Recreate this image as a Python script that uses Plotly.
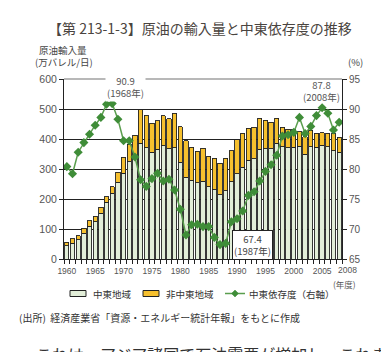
import plotly.graph_objects as go

years = list(range(1960, 2009))
total = [56, 67, 77, 102, 127, 142, 172, 208, 241, 289,
         339, 382, 413, 497, 480, 452, 461, 478, 467, 486,
         441, 394, 372, 360, 369, 342, 336, 319, 336, 361,
         397, 419, 436, 439, 469, 462, 456, 469, 439, 433,
         432, 424, 408, 430, 419, 421, 419, 417, 406]
mideast = [45, 53, 64, 86, 109, 124, 152, 189, 219, 256,
           286, 324, 340, 386, 371, 356, 366, 377, 367, 371,
           322, 272, 263, 255, 260, 241, 231, 215, 227, 257,
           285, 306, 330, 335, 366, 368, 368, 386, 375, 371,
           372, 376, 350, 374, 372, 380, 374, 361, 356]
dependence = [80.4, 79.2, 82.8, 84.4, 85.8, 87.3, 88.6, 90.8, 90.9, 88.3,
              84.7, 84.7, 82.0, 78.2, 77.1, 78.4, 79.3, 78.0, 78.3, 76.5,
              73.3, 69.0, 70.7, 70.8, 70.4, 70.4, 68.6, 67.4, 67.6, 71.2,
              71.7, 73.0, 75.6, 76.2, 78.0, 79.6, 80.7, 82.3, 85.5, 85.7,
              86.1, 88.6, 85.9, 87.1, 88.9, 90.2, 89.3, 86.5, 87.8]
non_mideast = [t - m for t, m in zip(total, mideast)]
label_years = [1960, 1965, 1970, 1975, 1980, 1985, 1990, 1995, 2000, 2005]
series_names = ["中東地域", "非中東地域", "中東依存度（右軸）"]

JP = "Noto Sans CJK JP"
W, H = 381, 352
ML, MR, MT, MB = 64, 39, 79, 93
PW, PH = W - ML - MR, H - MT - MB
GREEN_BAR, YELLOW_BAR = "#e2eed8", "#f6c02e"
LINE_C, MARK_C, EDGE = "#5a9e4e", "#3f8d38", "#222"


def px(x):
    return (x - ML) / PW


def py(y):
    return (H - MB - y) / PH


fig = go.Figure()
fig.add_trace(go.Bar(x=years, y=mideast, name=series_names[0],
                     marker=dict(color=GREEN_BAR, line=dict(color=EDGE, width=0.9))))
fig.add_trace(go.Bar(x=years, y=non_mideast, name=series_names[1],
                     marker=dict(color=YELLOW_BAR, line=dict(color=EDGE, width=0.9))))
fig.add_trace(go.Scatter(x=years, y=dependence, name=series_names[2], yaxis="y2",
                         mode="lines+markers",
                         line=dict(color=LINE_C, width=1.5),
                         marker=dict(symbol="diamond", size=7, color=MARK_C)))

# manual legend swatches (paper coordinates derived from pixel layout)
LY = 293.5
shapes = [
    dict(type="line", xref="paper", yref="paper", x0=0, x1=1, y0=1, y1=1,
         line=dict(color="#a0a0a0", width=1.6), layer="above"),
    dict(type="rect", xref="paper", yref="paper", x0=px(70), x1=px(86), y0=py(LY - 3),
         y1=py(LY + 3), fillcolor=GREEN_BAR, line=dict(color=EDGE, width=1)),
    dict(type="rect", xref="paper", yref="paper", x0=px(143), x1=px(159), y0=py(LY - 3),
         y1=py(LY + 3), fillcolor=YELLOW_BAR, line=dict(color=EDGE, width=1)),
    dict(type="line", xref="paper", yref="paper", x0=px(225), x1=px(245), y0=py(LY),
         y1=py(LY), line=dict(color=LINE_C, width=1.5)),
    dict(type="path", xref="paper", yref="paper",
         path=f"M {px(235)} {py(LY - 3.5)} L {px(238.5)} {py(LY)} L {px(235)} {py(LY + 3.5)} "
              f"L {px(231.5)} {py(LY)} Z",
         fillcolor=MARK_C, line=dict(color=MARK_C, width=0.5)),
]

fig.update_layout(
    width=W, height=H, margin=dict(l=ML, r=MR, t=MT, b=MB, autoexpand=False),
    paper_bgcolor="white", plot_bgcolor="white",
    barmode="stack", bargap=0.24,
    font=dict(family=JP, size=10, color="#444"),
    showlegend=False,
    xaxis=dict(range=[1959.5, 2008.5], tickvals=label_years,
               ticktext=[str(y) for y in label_years], ticks="", ticklabelstandoff=4,
               tickfont=dict(family="Liberation Sans", size=8.5, color="#555"),
               showline=True, linecolor=EDGE, linewidth=1, showgrid=False, zeroline=False,
               minor=dict(tick0=1959.5, dtick=1, ticks="outside", ticklen=4,
                          tickcolor=EDGE, showgrid=False)),
    yaxis=dict(range=[0, 600], tickvals=[0, 100, 200, 300, 400, 500, 600],
               ticks="outside", ticklen=4, tickcolor=EDGE,
               tickfont=dict(family="Liberation Sans", size=10.5, color="#555"),
               showline=True, linecolor=EDGE, linewidth=1,
               showgrid=True, gridcolor=EDGE, gridwidth=1, zeroline=False),
    yaxis2=dict(range=[65, 95], tickvals=[65, 70, 75, 80, 85, 90, 95], overlaying="y",
                side="right", ticks="outside", ticklen=4, tickcolor=EDGE,
                tickfont=dict(family="Liberation Sans", size=10, color="#555"),
                showline=True, linecolor=EDGE, linewidth=1, showgrid=False, zeroline=False),
    shapes=shapes,
)


def note(text, x, y, size, color="#444", xanchor="center", yanchor="middle", **kw):
    return dict(text=text, xref="paper", yref="paper", x=px(x), y=py(y),
                xanchor=xanchor, yanchor=yanchor, showarrow=False,
                font=dict(size=size, color=color, family=kw.pop("family", JP)), **kw)


ann = [
    note("【第 213-1-3】原油の輸入量と中東依存度の推移", 200, 28, 14, "#4a4440"),
    note("原油輸入量", 37, 50, 9.5, xanchor="left"),
    note("(万バレル/日)", 33, 62, 9.5, xanchor="left"),
    note("(%)", 355, 62, 9.5),
    note("(年度)", 344, 284, 8.5, "#555"),
    note("90.9<br>(1968年)", 125, 87, 9.5, "#555", bgcolor="white", borderpad=1),
    note("87.8<br>(2008年)", 321, 91, 9.5, "#555"),
    note("67.4<br>(1987年)", 252.5, 245, 9.5, bgcolor="white", bordercolor=EDGE,
         borderwidth=1, borderpad=1),
    note(series_names[0], 91, LY, 9.5, "#333", xanchor="left"),
    note(series_names[1], 164, LY, 9.5, "#333", xanchor="left"),
    note(series_names[2], 247, LY, 9.5, "#333", xanchor="left"),
    note("(出所)  経済産業省「資源・エネルギー統計年報」をもとに作成", 17, 317, 10, "#333",
         xanchor="left"),
    note("これは、アジア諸国で石油需要が増加し、これま", 34, 340, 16, "#333",
         xanchor="left", yanchor="top"),
]
ann.append(dict(text="2008", xref="x", yref="paper", x=2008, xshift=8, y=py(270),
                xanchor="center", yanchor="middle", showarrow=False,
                font=dict(family="Liberation Sans", size=8.5, color="#555")))
fig.update_layout(annotations=ann)

fig.write_html("out.html")
